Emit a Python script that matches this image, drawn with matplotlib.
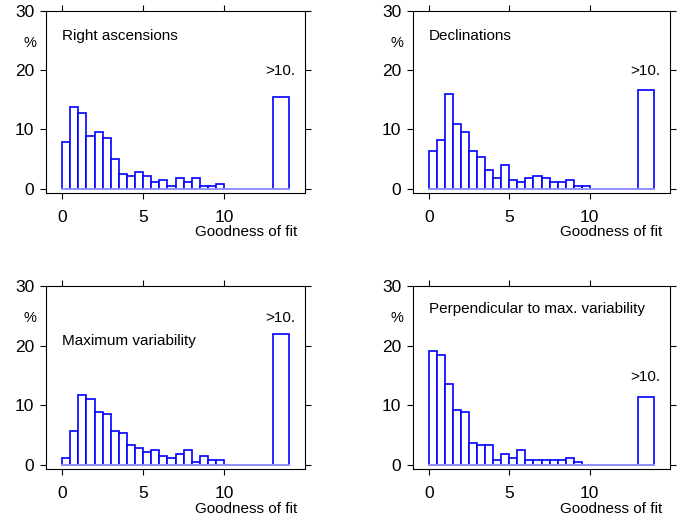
import numpy as np
import matplotlib
matplotlib.use("Agg")
import matplotlib.pyplot as plt

plt.rcParams['font.family'] = ['Liberation Sans', 'DejaVu Sans']

# bin edges: 0..10 step 0.5, then gap to 13, then overflow bin 13-14
bin_edges = [0, 0.5, 1, 1.5, 2, 2.5, 3, 3.5, 4, 4.5, 5, 5.5, 6, 6.5, 7, 7.5,
             8, 8.5, 9, 9.5, 10, 13, 14]

right_asc = [7.8, 13.8, 12.75, 8.9, 9.55, 8.5, 4.95, 2.5, 2.15, 2.85, 2.15, 1.05,
             1.45, 0.4, 1.8, 1.05, 1.8, 0.4, 0.4, 0.8, 0.0, 15.5]
declin = [6.4, 8.15, 15.9, 10.95, 9.55, 6.4, 5.35, 3.2, 1.8, 3.95, 1.45, 1.05,
          1.8, 2.15, 1.8, 1.05, 1.05, 1.45, 0.4, 0.4, 0.0, 16.6]
max_var = [1.05, 5.7, 11.7, 10.95, 8.9, 8.5, 5.7, 5.3, 3.2, 2.8, 2.15, 2.5,
           1.45, 1.05, 1.8, 2.5, 0.4, 1.45, 0.75, 0.75, 0.0, 22.0]
perp_var = [19.15, 18.4, 13.5, 9.2, 8.9, 3.55, 3.2, 3.2, 0.75, 1.8, 1.05, 2.5,
            0.75, 0.75, 0.75, 0.75, 0.75, 1.05, 0.4, 0.0, 0.0, 11.35]

titles = ["Right ascensions", "Declinations", "Maximum variability",
          "Perpendicular to max. variability"]
series = [right_asc, declin, max_var, perp_var]
title_y = [25.8, 25.8, 20.8, 26.2]
over_label_y = [19.9, 19.9, 24.7, 14.7]

xticks = [0, 5, 10]
yticks = [0, 10, 20, 30]

W, H = 681, 519
fig = plt.figure(figsize=(W / 100, H / 100), dpi=100)

positions = [
    (46, 11, 305, 193),
    (413, 11, 670, 193),
    (46, 286, 305, 469),
    (413, 286, 670, 469),
]

edges = np.array(bin_edges)
lefts = edges[:-1]
widths = np.diff(edges)

for i, (l, t, r, b) in enumerate(positions):
    ax = fig.add_axes([l / W, 1 - b / H, (r - l) / W, (b - t) / H])
    vals = series[i]
    ax.bar(lefts, vals, width=widths, align='edge', facecolor='white',
           edgecolor='#0000ff', linewidth=1.2, zorder=2)
    # lighter baseline
    ax.plot([edges[0], edges[-1]], [0, 0], color='#a8a8ff', linewidth=1.2, zorder=3)
    ax.set_xlim(-1, 15)
    ax.set_ylim(-0.75, 30)
    ax.set_xticks(xticks)
    ax.set_yticks(yticks)
    ax.tick_params(axis='both', direction='out', length=4.5, width=0.8,
                   labelsize=12.5, top=True, right=True,
                   labeltop=False, labelright=False)
    ax.tick_params(axis='x', pad=8)
    ax.tick_params(axis='y', pad=4)
    for s in ax.spines.values():
        s.set_linewidth(0.8)
    ax.text(0, title_y[i], titles[i], fontsize=11, ha='left', va='center')
    ax.text(13.45, over_label_y[i], ">10.", fontsize=11, ha='center', va='center')
    ax.text(-2.0, 24.6, "%", fontsize=10.5, ha='center', va='center', clip_on=False)
    ax.text(14.5, -7.4, "Goodness of fit", fontsize=11, ha='right', va='center',
            clip_on=False)

fig.savefig("out.png", dpi=100)
